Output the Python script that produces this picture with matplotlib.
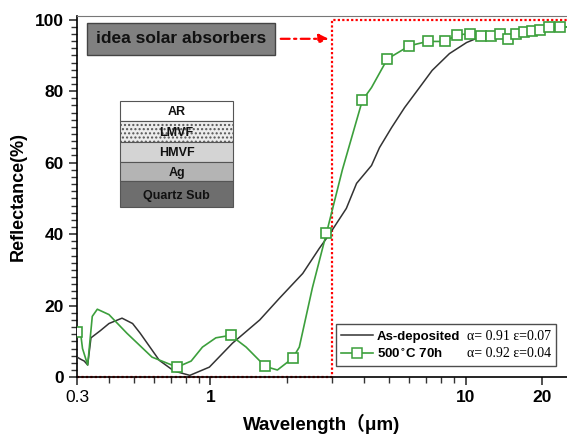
import matplotlib as mpl
mpl.use("Agg")
import matplotlib.pyplot as plt
from matplotlib.lines import Line2D
from matplotlib.patches import Rectangle
from matplotlib.ticker import FixedLocator, MultipleLocator, NullFormatter

# As-deposited coating (black curve)
black_wl = [0.30, 0.31, 0.32, 0.33, 0.34, 0.37, 0.40, 0.45, 0.495, 0.53, 0.63,
            0.72, 0.83, 0.99, 1.22, 1.56, 1.86, 2.30, 2.67, 2.93, 3.41, 3.74,
            4.28, 4.60, 5.13, 5.77, 6.60, 7.40, 8.65, 10.1, 11.0, 13.0, 16.0,
            20.0, 25.0]
black_r = [5.6, 5.0, 4.5, 3.4, 11.0, 13.0, 15.0, 16.5, 15.0, 12.3, 4.7,
           1.7, 0.5, 2.8, 9.5, 16.0, 22.0, 29.0, 36.0, 40.0, 47.2, 54.2,
           59.2, 64.2, 69.8, 75.4, 81.0, 85.8, 90.5, 93.6, 94.7, 95.2, 95.8,
           96.8, 98.0]

# After 500 C / 70 h anneal (green curve)
green_wl = [0.30, 0.31, 0.315, 0.33, 0.344, 0.36, 0.40, 0.47, 0.59, 0.74,
            0.84, 0.93, 1.05, 1.20, 1.38, 1.64, 1.83, 2.10, 2.23, 2.51, 2.85,
            3.29, 3.94, 4.28, 4.94, 6.03, 7.1, 8.3, 9.3, 10.4, 11.5, 12.6,
            13.7, 14.7, 15.8, 17.0, 18.3, 19.6, 21.3, 23.4, 25.0]
green_r = [12.5, 12.0, 8.0, 3.4, 17.0, 19.0, 17.5, 12.3, 5.6, 2.8,
           4.5, 8.4, 11.0, 11.7, 8.4, 3.0, 2.0, 5.3, 8.4, 25.0, 40.3,
           58.0, 77.4, 81.0, 89.0, 92.7, 93.9, 93.9, 95.8, 96.0, 95.5, 95.5,
           96.0, 94.5, 96.0, 96.6, 96.8, 97.0, 97.8, 97.8, 98.0]
green_marks = [0, 9, 13, 15, 17, 20, 22, 24, 25, 26, 27, 28, 29, 30, 31, 32,
               33, 34, 35, 36, 37, 38, 39]

# ideal solar absorber: step at the cut-off wavelength
ideal_wl = [0.3, 3.0, 3.0, 25.0]
ideal_r = [0, 0, 100, 100]

stack_layers = ["AR", "LMVF", "HMVF", "Ag", "Quartz Sub"]
stack_colors = ["white", "#ececec", "#d4d4d4", "#b4b4b4", "#6e6e6e"]

labels = ["As-deposited", "500$^{\\circ}$C 70h"]
props = ["\u03b1= 0.91 \u03b5=0.07", "\u03b1= 0.92 \u03b5=0.04"]

plt.rcParams.update({
    "font.family": ["Liberation Sans", "DejaVu Sans"],
    "font.weight": "bold",
    "axes.labelweight": "bold",
    "hatch.color": "#9a9a9a",
})

GREEN = "#3c9f3c"

fig = plt.figure(figsize=(5.67, 4.34), dpi=100)
ax = fig.add_axes([0.136, 0.131, 0.864, 0.832])

ax.plot(ideal_wl, ideal_r, color="red", ls=(0, (1, 1)), lw=1.6, clip_on=False,
        zorder=1)
ax.plot(black_wl, black_r, color="#333333", lw=1.1, zorder=3)
ax.plot(green_wl, green_r, color=GREEN, lw=1.2, marker="s", markevery=green_marks,
        ms=7, mfc="white", mec=GREEN, mew=1.2, zorder=4)

ax.set_xscale("log")
ax.set_xlim(0.3, 25)
ax.set_ylim(0, 101)
ax.xaxis.set_major_locator(FixedLocator([0.3, 1, 10, 20]))
ax.set_xticklabels(["0.3", "1", "10", "20"])
ax.xaxis.set_minor_locator(FixedLocator(
    [0.4, 0.5, 0.6, 0.7, 0.8, 0.9, 2, 3, 4, 5, 6, 7, 8, 9]))
ax.xaxis.set_minor_formatter(NullFormatter())
ax.get_xticklabels()[0].set_fontweight("normal")
ax.yaxis.set_major_locator(MultipleLocator(20))
ax.yaxis.set_minor_locator(MultipleLocator(2))
ax.tick_params(which="both", direction="out", top=False, right=False,
               labelsize=12.5, color="#333333")
ax.tick_params(which="major", length=6, width=1.2)
ax.tick_params(which="minor", length=4, width=1.0)
ax.spines["top"].set_color("#777777")
ax.spines["right"].set_visible(False)
for s in ("left", "bottom"):
    ax.spines[s].set_linewidth(1.2)

ax.set_xlabel("Wavelength\uff08\u03bcm)", fontsize=13.5, labelpad=6,
              family=["Liberation Sans", "Noto Sans CJK SC", "DejaVu Sans"])
ax.set_ylabel("Reflectance(%)", fontsize=13, labelpad=6)

# layer stack sketch
edges = [0.765, 0.709, 0.651, 0.596, 0.543, 0.471]
for i, (name, col) in enumerate(zip(stack_layers, stack_colors)):
    top, bot = edges[i], edges[i + 1]
    r = Rectangle((0.088, bot), 0.23, top - bot, transform=ax.transAxes,
                  facecolor=col, edgecolor="#555555", lw=0.8,
                  hatch="...." if name == "LMVF" else None, zorder=5)
    ax.add_patch(r)
    ax.text(0.203, (top + bot) / 2 - 0.004, name, transform=ax.transAxes,
            ha="center", va="center", fontsize=9, color="#111111", zorder=6)

# ideal absorber label and arrow
ax.text(0.212, 0.937, "idea solar absorbers", transform=ax.transAxes,
        ha="center", va="center", fontsize=12.5, color="#111111", zorder=6,
        bbox=dict(boxstyle="square,pad=0.5", facecolor="#808080",
                  edgecolor="#444444", lw=1.0))
ax.annotate("", xy=(0.519, 0.937), xytext=(0.41, 0.937),
            xycoords="axes fraction",
            arrowprops=dict(arrowstyle="-|>", color="red", lw=1.6,
                            ls=(0, (4, 2, 1, 2)), mutation_scale=14))

# legend: names in first column, optical properties in second
handles = [Line2D([], [], color="#333333", lw=1.1),
           Line2D([], [], color=GREEN, lw=1.2, marker="s", ms=7, mfc="white",
                  mec=GREEN, mew=1.1),
           Line2D([], [], color="none"), Line2D([], [], color="none")]
leg = ax.legend(handles, labels + props, ncol=2, loc="lower right",
                bbox_to_anchor=(0.992, 0.012), fontsize=9.5, frameon=True,
                fancybox=False, edgecolor="#222222", handlelength=2.4,
                handletextpad=0.3, columnspacing=-2.2, borderpad=0.4,
                labelspacing=0.35)
leg.get_frame().set_linewidth(1.0)
for t in leg.get_texts()[2:]:
    t.set_family(["Liberation Serif", "DejaVu Serif"])
    t.set_fontweight("normal")
    t.set_fontsize(10)

fig.savefig("out.png", dpi=100)
